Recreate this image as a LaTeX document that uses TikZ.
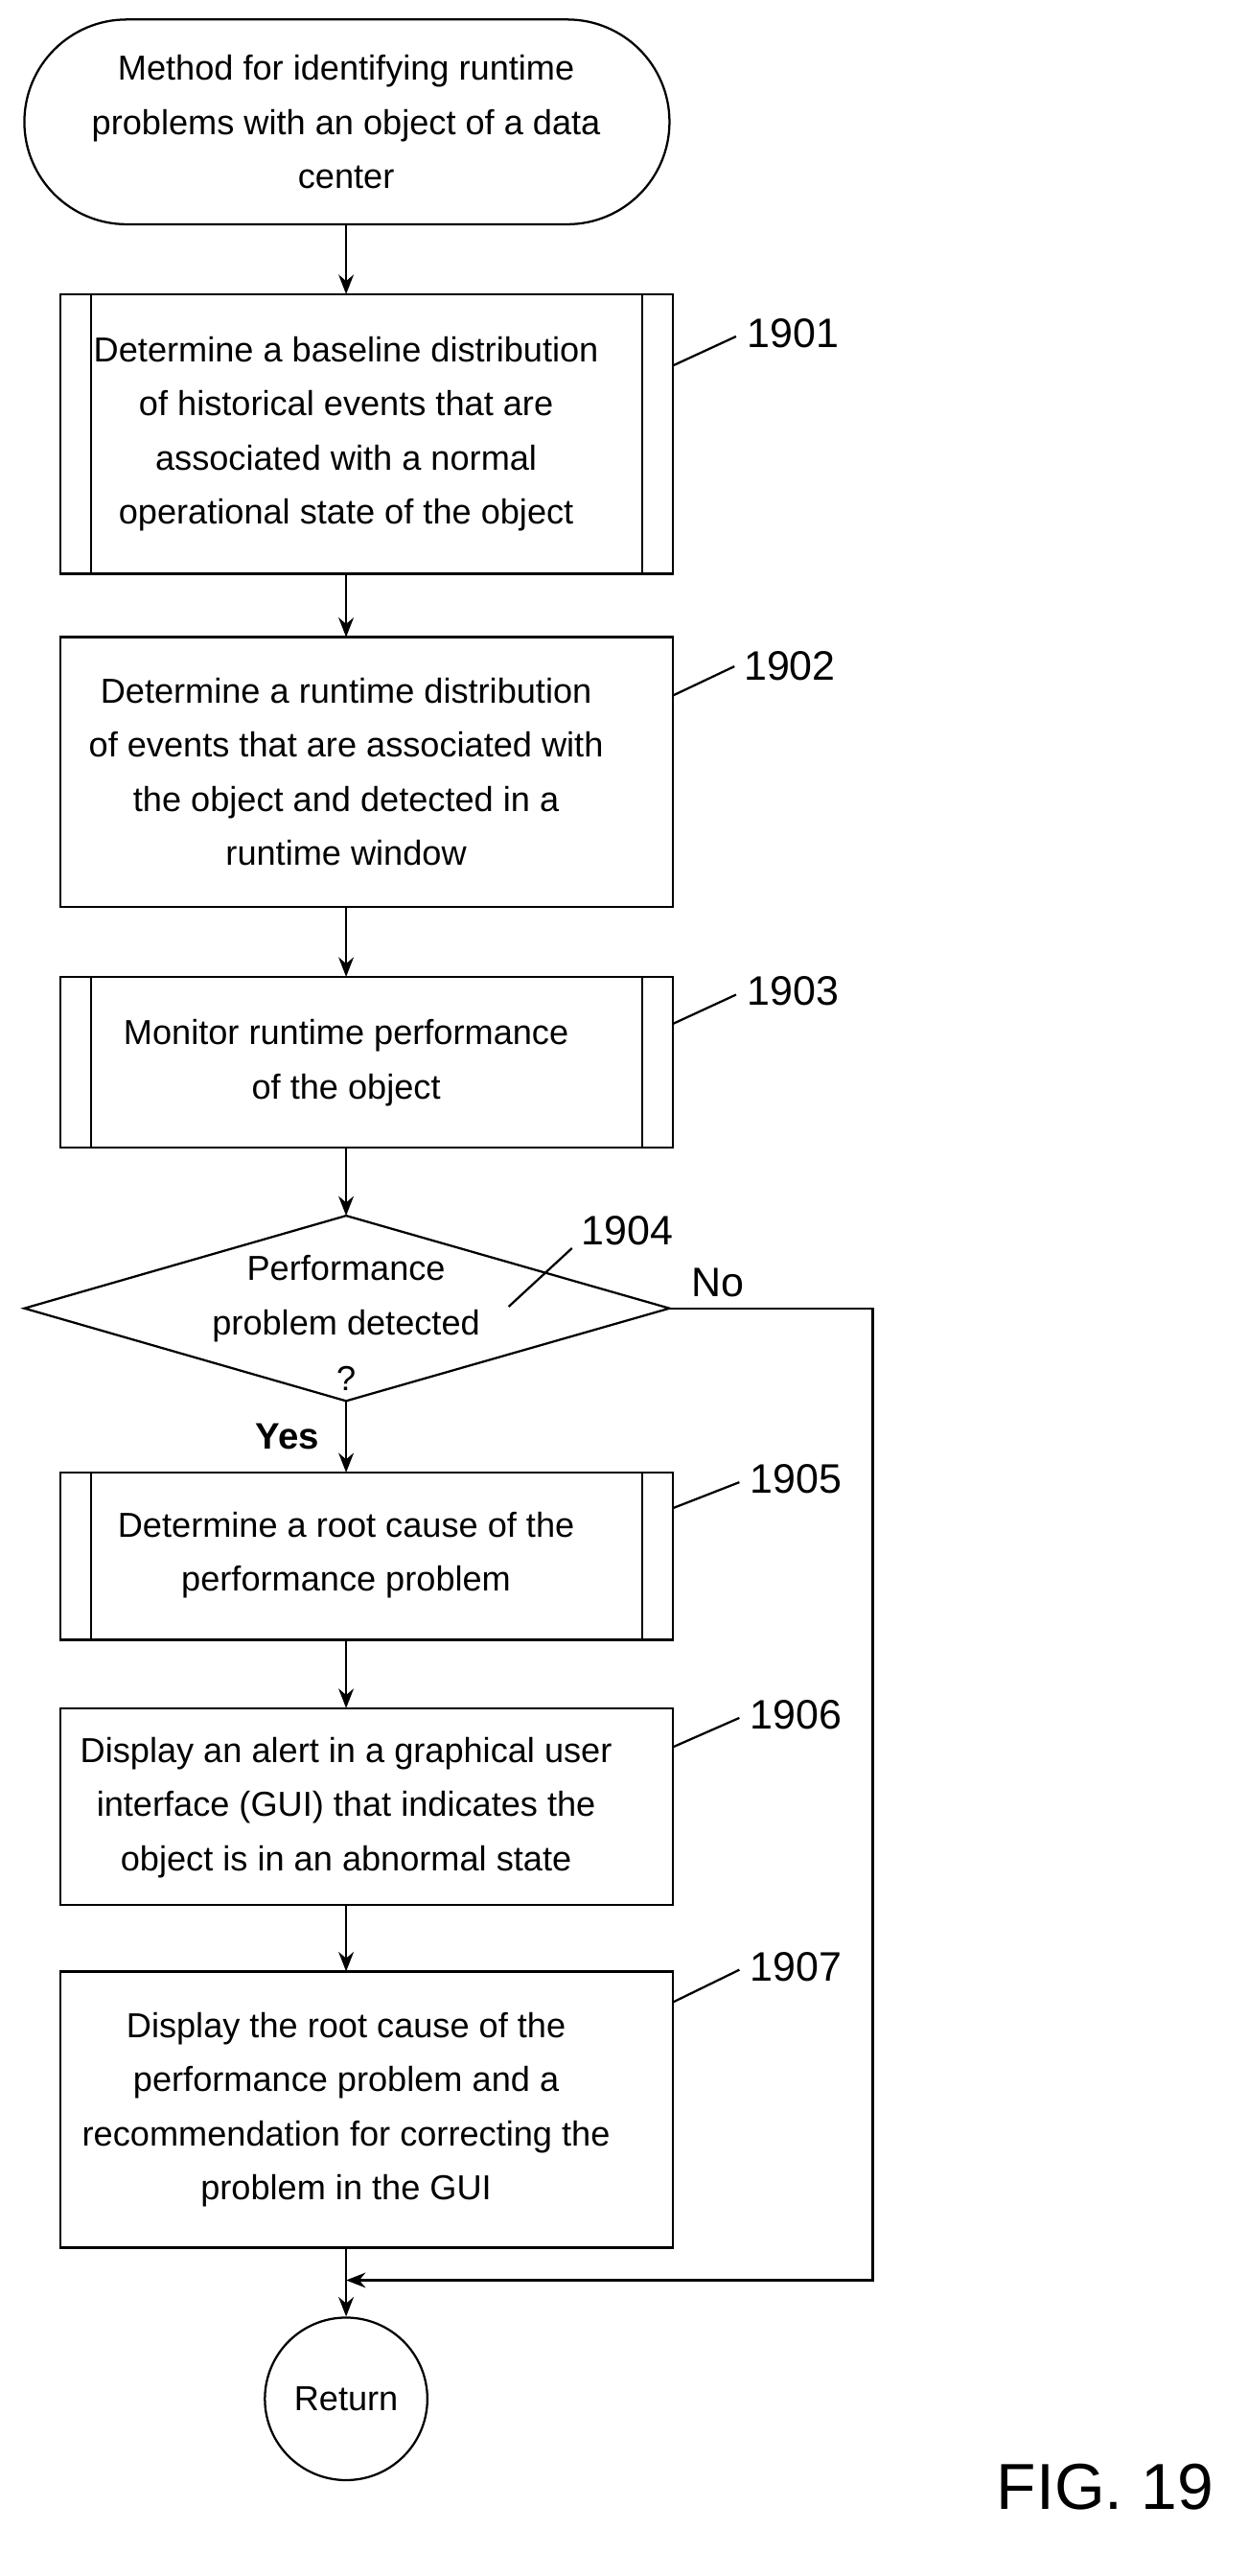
\documentclass[tikz,border=0pt]{standalone}
\usepackage{fontspec}
\setmainfont{Liberation Sans}
\usetikzlibrary{shapes.geometric,arrows.meta}
\begin{document}
\begin{tikzpicture}[x=0.75pt,y=-0.75pt,
  txt/.style={font=\fontsize{16}{25}\selectfont,align=center},
  lbl/.style={font=\fontsize{19}{22}\selectfont},
  ln/.style={line width=1pt},
  arr/.style={ln,-{Stealth[length=9pt,width=7pt]}}]
\useasboundingbox (0,0) rectangle (768,1585);
% start
\draw[ln,rounded corners=63*0.75pt] (15,12) rectangle (412,138);
\node[txt] (start) at (213,75) {Method for identifying runtime\\problems with an object of a data\\center};
\coordinate (startb) at (213,138);
% 1901
\draw[ln] (37,181) rectangle (414,353); \draw[ln] (56,181)--(56,353) (395,181)--(395,353);
\node[txt] (b1) at (213,267) {Determine a baseline distribution\\of historical events that are\\associated with a normal\\operational state of the object};
\coordinate (b1t) at (213,181); \coordinate (b1b) at (213,353);
% 1902
\draw[ln] (37,392) rectangle (414,558);
\node[txt] (b2) at (213,475) {Determine a runtime distribution\\of events that are associated with\\the object and detected in a\\runtime window};
\coordinate (b2t) at (213,392); \coordinate (b2b) at (213,558);
% 1903
\draw[ln] (37,601) rectangle (414,706); \draw[ln] (56,601)--(56,706) (395,601)--(395,706);
\node[txt] (b3) at (213,654) {Monitor runtime performance\\of the object};
\coordinate (b3t) at (213,601); \coordinate (b3b) at (213,706);
% diamond
\draw[ln] (15,805)--(213,748)--(412,805)--(213,862)--cycle;
\node[txt] (d) at (213,799) {Performance\\problem detected};
\node[txt] (q) at (213,848) {?};
\coordinate (dt) at (213,748); \coordinate (db) at (213,862); \coordinate (dr) at (412,805);
% 1905
\draw[ln] (37,906) rectangle (414,1009); \draw[ln] (56,906)--(56,1009) (395,906)--(395,1009);
\node[txt] (b5) at (213,957) {Determine a root cause of the\\performance problem};
\coordinate (b5t) at (213,906); \coordinate (b5b) at (213,1009);
% 1906
\draw[ln] (37,1051) rectangle (414,1172);
\node[txt] (b6) at (213,1112) {Display an alert in a graphical user\\interface (GUI) that indicates the\\object is in an abnormal state};
\coordinate (b6t) at (213,1051); \coordinate (b6b) at (213,1172);
% 1907
\draw[ln] (37,1213) rectangle (414,1383);
\node[txt] (b7) at (213,1298) {Display the root cause of the\\performance problem and a\\recommendation for correcting the\\problem in the GUI};
\coordinate (b7t) at (213,1213); \coordinate (b7b) at (213,1383);
% return
\node[ln,draw,circle,minimum size=75pt,txt] (ret) at (213,1476) {Return};
% arrows
\draw[arr] (startb)--(b1t);
\draw[arr] (b1b)--(b2t);
\draw[arr] (b2b)--(b3t);
\draw[arr] (b3b)--(dt);
\draw[arr] (db)--(b5t);
\draw[arr] (b5b)--(b6t);
\draw[arr] (b6b)--(b7t);
\draw[arr] (b7b)--(ret);
\coordinate (nc1) at (537,805); \coordinate (nc2) at (537,1403); \coordinate (nc3) at (213,1403);
\draw[arr] (dr)--(nc1)--(nc2)--(nc3);
\node[txt,font=\fontsize{17}{20}\selectfont\bfseries] (yes) at (177,884) {Yes};
\node[lbl] (no) at (442,789) {No};
% labels
\node[lbl] (l1) at (488,205) {1901}; \draw[ln] (414,225)--(453,207);
\node[lbl] (l2) at (486,410) {1902}; \draw[ln] (414,428)--(452,410);
\node[lbl] (l3) at (488,610) {1903}; \draw[ln] (414,630)--(453,612);
\node[lbl] (l4) at (386,757) {1904}; \draw[ln] (313,804)--(352,768);
\node[lbl] (l5) at (490,910) {1905}; \draw[ln] (414,928)--(455,912);
\node[lbl] (l6) at (490,1055) {1906}; \draw[ln] (414,1075)--(455,1057);
\node[lbl] (l7) at (490,1210) {1907}; \draw[ln] (414,1232)--(455,1212);
\node[font=\fontsize{30}{34}\selectfont] (fig) at (680,1530) {FIG. 19};
\end{tikzpicture}
\end{document}
